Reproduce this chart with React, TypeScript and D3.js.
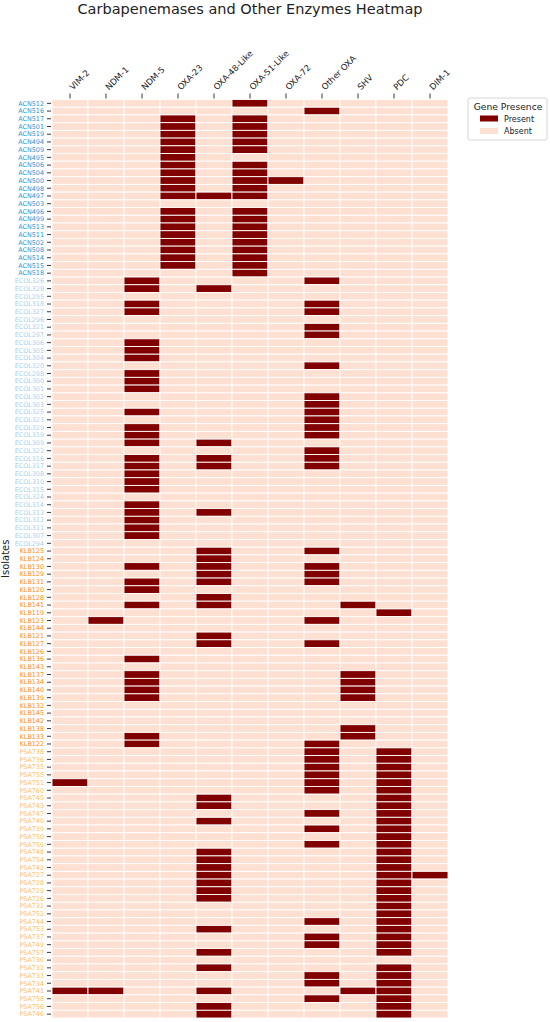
import React from "react";
import * as d3 from "d3";

// genes (columns)
const genes = ["VIM-2", "NDM-1", "NDM-5", "OXA-23", "OXA-48-Like", "OXA-51-Like", "OXA-72", "Other OXA", "SHV", "PDC", "DIM-1"];

// isolates per species, top to bottom, with presence strings (1 = present) in gene order
const acnIsolates = ["ACN512", "ACN516", "ACN517", "ACN501", "ACN519", "ACN494", "ACN509", "ACN495", "ACN506", "ACN504", "ACN500", "ACN498", "ACN497", "ACN503", "ACN496", "ACN499", "ACN513", "ACN511", "ACN502", "ACN508", "ACN514", "ACN515", "ACN518"];
const acnPresence = ["00000100000", "00000001000", "00010100000", "00010100000", "00010100000", "00010100000", "00010100000", "00010000000", "00010100000", "00010100000", "00010110000", "00010100000", "00011100000", "00000000000", "00010100000", "00010100000", "00010100000", "00010100000", "00010100000", "00010100000", "00010100000", "00010100000", "00000100000"];

const ecolIsolates = ["ECOL326", "ECOL328", "ECOL295", "ECOL318", "ECOL327", "ECOL296", "ECOL321", "ECOL297", "ECOL306", "ECOL305", "ECOL304", "ECOL320", "ECOL298", "ECOL300", "ECOL301", "ECOL302", "ECOL303", "ECOL325", "ECOL323", "ECOL329", "ECOL319", "ECOL309", "ECOL322", "ECOL316", "ECOL317", "ECOL308", "ECOL310", "ECOL315", "ECOL324", "ECOL314", "ECOL313", "ECOL312", "ECOL311", "ECOL307", "ECOL294"];
const ecolPresence = ["00100001000", "00101000000", "00000000000", "00100001000", "00100001000", "00000000000", "00000001000", "00000001000", "00100000000", "00100000000", "00100000000", "00000001000", "00100000000", "00100000000", "00100000000", "00000001000", "00000001000", "00100001000", "00000001000", "00100001000", "00100001000", "00101000000", "00000001000", "00101001000", "00101001000", "00100000000", "00100000000", "00100000000", "00000000000", "00100000000", "00101000000", "00100000000", "00100000000", "00100000000", "00000000000"];

const klbIsolates = ["KLB125", "KLB124", "KLB130", "KLB129", "KLB131", "KLB120", "KLB128", "KLB141", "KLB119", "KLB123", "KLB144", "KLB121", "KLB127", "KLB126", "KLB136", "KLB143", "KLB137", "KLB134", "KLB140", "KLB139", "KLB132", "KLB145", "KLB142", "KLB138", "KLB133", "KLB122"];
const klbPresence = ["00001001000", "00001000000", "00101001000", "00001001000", "00101001000", "00100000000", "00001000000", "00101000100", "00000000010", "01000001000", "00000000000", "00001000000", "00001001000", "00000000000", "00100000000", "00000000000", "00100000100", "00100000100", "00100000100", "00100000100", "00000000000", "00000000000", "00000000000", "00000000100", "00100000100", "00100001000"];

const psaIsolates = ["PSA738", "PSA736", "PSA735", "PSA755", "PSA751", "PSA760", "PSA745", "PSA743", "PSA747", "PSA740", "PSA739", "PSA750", "PSA759", "PSA748", "PSA754", "PSA742", "PSA727", "PSA728", "PSA729", "PSA726", "PSA731", "PSA752", "PSA744", "PSA753", "PSA737", "PSA749", "PSA757", "PSA730", "PSA732", "PSA733", "PSA734", "PSA741", "PSA758", "PSA756", "PSA746"];
const psaPresence = ["00000001010", "00000001010", "00000001010", "00000001010", "10000001010", "00000001010", "00001000010", "00001000010", "00000001010", "00001000010", "00000001010", "00000000010", "00000001010", "00001000010", "00001000010", "00001000010", "00001000011", "00001000010", "00001000010", "00001000010", "00000000010", "00000000010", "00000001010", "00001000010", "00000001010", "00000001010", "00001000010", "00000000000", "00001000010", "00000001010", "00000001010", "11001000110", "00000001010", "00001000010", "00001000010"];

const species = [
  { names: acnIsolates, presence: acnPresence, color: "#1f97d4" },
  { names: ecolIsolates, presence: ecolPresence, color: "#a9d2ea" },
  { names: klbIsolates, presence: klbPresence, color: "#ff8c1a" },
  { names: psaIsolates, presence: psaPresence, color: "#fdbf6f" },
];

const PRESENT = "#800000";
const ABSENT = "#fee0d2";

const App = () => {
  const width = 550;
  const height = 1022;
  const margin = { top: 99.5, right: 102, bottom: 4, left: 52 };
  const font = "DejaVu Sans, sans-serif";

  const rows = species.flatMap(s =>
    s.names.map((name, i) => ({ name, color: s.color, bits: s.presence[i] }))
  );

  const x = d3.scaleBand().domain(genes).range([margin.left, width - margin.right]);
  const y = d3.scaleBand().domain(rows.map(r => r.name)).range([margin.top, height - margin.bottom]);

  const cells = rows.flatMap(r =>
    genes.map((g, j) => ({ row: r.name, gene: g, on: r.bits[j] === "1" }))
  );

  const plotMid = (margin.left + width - margin.right) / 2;
  const plotMidY = (margin.top + height - margin.bottom) / 2;

  return (
    <svg width={width} height={height} style={{ position: "absolute", left: 0, top: 0 }} fontFamily={font}>
      <rect width={width} height={height} fill="#fff" />
      <text x={plotMid} y={14} textAnchor="middle" fontSize={14.5} fill="#222">
        Carbapenemases and Other Enzymes Heatmap
      </text>

      {/* cells */}
      <g>
        {cells.map((c, i) => (
          <rect
            key={i}
            x={x(c.gene)}
            y={y(c.row)}
            width={x.bandwidth()}
            height={y.bandwidth()}
            fill={c.on ? PRESENT : ABSENT}
            stroke="#fff"
            strokeWidth={0.9}
          />
        ))}
      </g>

      {/* top axis */}
      <g>
        {genes.map(g => {
          const cx = (x(g) as number) + x.bandwidth() / 2;
          return (
            <g key={g}>
              <line x1={cx} x2={cx} y1={margin.top - 6} y2={margin.top - 1} stroke="#222" strokeWidth={0.9} />
              <text
                transform={`translate(${cx + 3},${margin.top - 9}) rotate(-45)`}
                fontSize={8.5}
                fill="#222"
              >
                {g}
              </text>
            </g>
          );
        })}
      </g>

      {/* left axis */}
      <g>
        {rows.map(r => {
          const cy = (y(r.name) as number) + y.bandwidth() / 2;
          return (
            <g key={r.name}>
              <line x1={margin.left - 5} x2={margin.left - 1} y1={cy} y2={cy} stroke="#222" strokeWidth={0.9} />
              <text x={margin.left - 8} y={cy} dy="0.35em" textAnchor="end" fontSize={6.4} fill={r.color}>
                {r.name}
              </text>
            </g>
          );
        })}
      </g>

      <text transform={`translate(9,${plotMidY}) rotate(-90)`} textAnchor="middle" fontSize={10} fill="#222">
        Isolates
      </text>

      {/* legend */}
      <g transform="translate(468,98)">
        <rect width={79} height={42} rx={2} fill="#fff" stroke="#ccc" strokeWidth={0.8} />
        <text x={40} y={12} textAnchor="middle" fontSize={9.2} fill="#222">Gene Presence</text>
        <rect x={12} y={17.5} width={18} height={6} fill={PRESENT} />
        <text x={36} y={23.5} fontSize={8} fill="#222">Present</text>
        <rect x={12} y={30} width={18} height={6} fill={ABSENT} />
        <text x={36} y={36} fontSize={8} fill="#222">Absent</text>
      </g>
    </svg>
  );
};

export default App;
